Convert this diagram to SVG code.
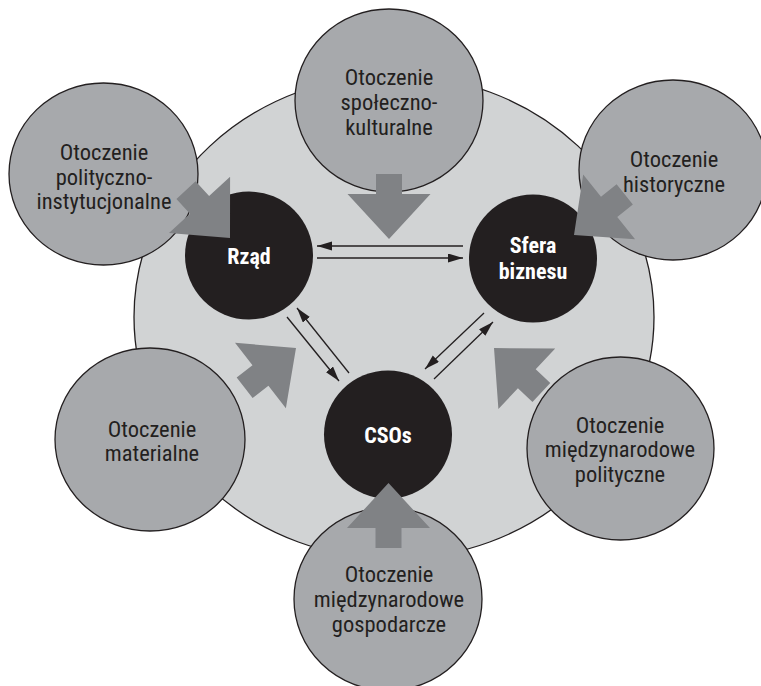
<svg xmlns="http://www.w3.org/2000/svg" width="761" height="686" viewBox="0 0 761 686">
<defs>
<style>
.bg{fill:#ffffff}
.big{fill:#d1d3d4;stroke:#231f20;stroke-width:1.3}
.env{fill:#a7a9ac;stroke:#231f20;stroke-width:1.3}
.actor{fill:#231f20}
.flow{fill:#808285}
.link{stroke:#231f20;stroke-width:1.3;fill:none;marker-end:url(#ah)}
.t{font-family:"Liberation Sans Narrow","Roboto Condensed","DejaVu Sans Condensed","Arial Narrow",sans-serif;font-size:22.5px;fill:#231f20;text-anchor:middle}
.tb{font-family:"Liberation Sans Narrow","Roboto Condensed","DejaVu Sans Condensed","Arial Narrow",sans-serif;font-size:22px;font-weight:bold;fill:#ffffff;text-anchor:middle}
</style>
<marker id="ah" markerUnits="userSpaceOnUse" markerWidth="16" markerHeight="10" refX="15" refY="4.5" orient="auto">
<path d="M0,0 L15,4.5 L0,9 Z" fill="#231f20"/>
</marker>
<path id="bigarrow" d="M-13,-65 L13,-65 L13,-45 L41.5,-45 L0,0 L-41.5,-45 L-13,-45 Z"/>
</defs>
<rect class="bg" x="0" y="0" width="761" height="686"/>
<g id="system">
<ellipse class="big" cx="394" cy="317" rx="260" ry="242"/>
</g>
<g id="env-polityczno">
<ellipse class="env" cx="103.5" cy="174" rx="94.5" ry="91"/>
<text class="t" x="104" y="160">Otoczenie</text>
<text class="t" x="104" y="184.5">polityczno-</text>
<text class="t" x="104" y="209">instytucjonalne</text>
</g>
<g id="env-spoleczno">
<ellipse class="env" cx="389" cy="100.5" rx="94" ry="91.5"/>
<text class="t" x="389" y="85">Otoczenie</text>
<text class="t" x="389" y="110">społeczno-</text>
<text class="t" x="389" y="135">kulturalne</text>
</g>
<g id="env-historyczne">
<ellipse class="env" cx="673" cy="170" rx="94" ry="90"/>
<text class="t" x="674" y="167">Otoczenie</text>
<text class="t" x="674" y="192">historyczne</text>
</g>
<g id="env-materialne">
<ellipse class="env" cx="150" cy="439.5" rx="95" ry="91.5"/>
<text class="t" x="152" y="437">Otoczenie</text>
<text class="t" x="152" y="461">materialne</text>
</g>
<g id="env-miedzynarodowe-polityczne">
<ellipse class="env" cx="620.5" cy="448.5" rx="93.5" ry="91.5"/>
<text class="t" x="620" y="433">Otoczenie</text>
<text class="t" x="620" y="457">międzynarodowe</text>
<text class="t" x="620" y="482">polityczne</text>
</g>
<g id="env-miedzynarodowe-gospodarcze">
<ellipse class="env" cx="388" cy="599" rx="94" ry="91.5"/>
<text class="t" x="389" y="582">Otoczenie</text>
<text class="t" x="389" y="607">międzynarodowe</text>
<text class="t" x="389" y="632">gospodarcze</text>
</g>
<g id="rzad">
<circle class="actor" cx="249" cy="255.5" r="64"/>
<text class="tb" x="249" y="264">Rząd</text>
</g>
<g id="sfera-biznesu">
<circle class="actor" cx="533" cy="258.5" r="64"/>
<text class="tb" x="533" y="253">Sfera</text>
<text class="tb" x="533" y="279">biznesu</text>
</g>
<g id="csos">
<circle class="actor" cx="388" cy="434.5" r="64"/>
<text class="tb" x="388" y="443">CSOs</text>
</g>
<g id="connectors">
<line class="link" x1="463" y1="246" x2="317" y2="246"/>
<line class="link" x1="317" y1="258" x2="463" y2="258"/>
<line class="link" x1="287" y1="317" x2="339" y2="381"/>
<line class="link" x1="349" y1="373" x2="297" y2="308"/>
<line class="link" x1="484" y1="313" x2="425" y2="369"/>
<line class="link" x1="434" y1="379" x2="493" y2="322"/>
<use class="flow" href="#bigarrow" transform="translate(389,239)"/>
<use class="flow" href="#bigarrow" transform="translate(388.5,483) rotate(180)"/>
<use class="flow" href="#bigarrow" transform="translate(230,238) rotate(-42.6)"/>
<use class="flow" href="#bigarrow" transform="translate(574,235) rotate(51.3)"/>
<use class="flow" href="#bigarrow" transform="translate(296,348) rotate(-127.8)"/>
<use class="flow" href="#bigarrow" transform="translate(494,348) rotate(133.2)"/>
</g>
</svg>
